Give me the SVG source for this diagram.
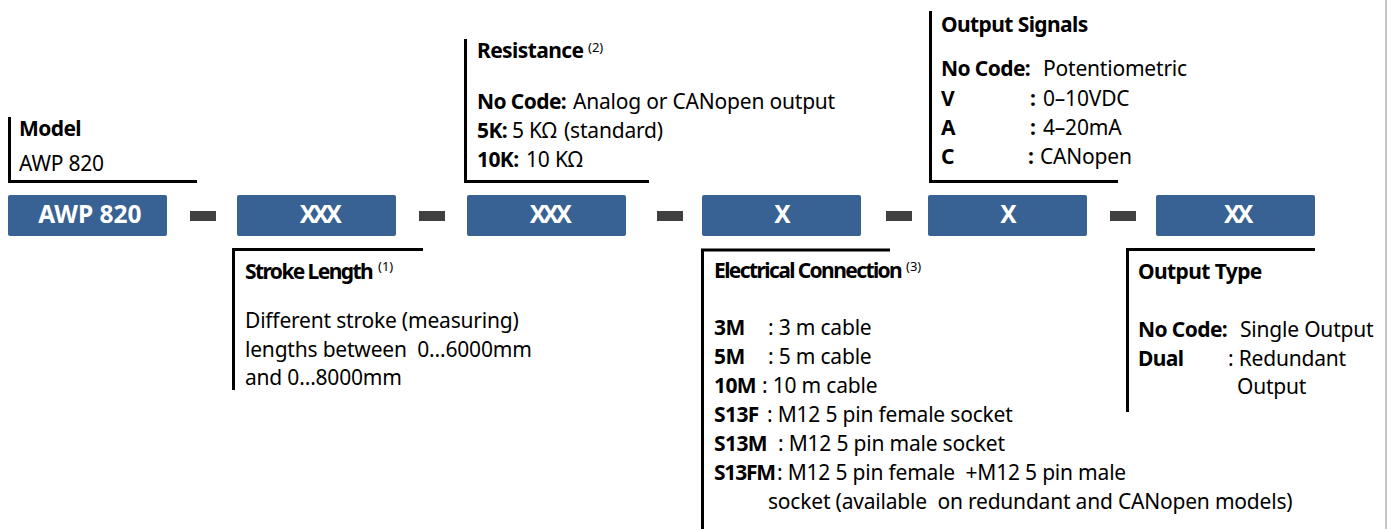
<svg xmlns="http://www.w3.org/2000/svg" width="1391" height="529" viewBox="0 0 1391 529">
<style>
text{font-family:"Noto Sans","Open Sans","DejaVu Sans",sans-serif;font-size:21px;fill:#000;letter-spacing:-0.2px}
.b{font-weight:bold;letter-spacing:-0.6px}
.tight{font-weight:bold;letter-spacing:-1.6px}
.sup{font-size:13px;letter-spacing:0}
.box{fill:#386194}
.bt{fill:#fff;font-weight:bold;font-size:24.5px;text-anchor:middle;letter-spacing:0}
.bx{letter-spacing:-3.5px}
.dash{fill:#404040}
.br{fill:none;stroke:#000;stroke-width:3}
</style>
<rect width="1391" height="529" fill="#fff"/>
<line x1="1386" y1="0" x2="1386" y2="529" stroke="#c4c4c4" stroke-width="2"/>

<g id="code-boxes">
<g id="box-model"><rect class="box" x="8" y="195" width="159" height="41" rx="2"/><text class="bt" x="90" y="223">AWP 820</text></g>
<g id="box-stroke"><rect class="box" x="237" y="195" width="159" height="41" rx="2"/><text class="bt bx" x="319" y="223">XXX</text></g>
<g id="box-resistance"><rect class="box" x="467" y="195" width="159" height="41" rx="2"/><text class="bt bx" x="549" y="223">XXX</text></g>
<g id="box-electrical"><rect class="box" x="702" y="195" width="159" height="41" rx="2"/><text class="bt" x="782.5" y="223">X</text></g>
<g id="box-output-signals"><rect class="box" x="928" y="195" width="159" height="41" rx="2"/><text class="bt" x="1008.5" y="223">X</text></g>
<g id="box-output-type"><rect class="box" x="1156" y="195" width="159" height="41" rx="2"/><text class="bt bx" x="1237" y="223">XX</text></g>
</g>

<g id="connectors">
<rect class="dash" x="190" y="211" width="26" height="10"/>
<rect class="dash" x="419" y="211" width="26" height="10"/>
<rect class="dash" x="657" y="211" width="26" height="10"/>
<rect class="dash" x="886" y="211" width="26" height="10"/>
<rect class="dash" x="1110" y="211" width="26" height="10"/>
<path class="br" d="M9.5 117 V181.5 H197"/>
<path class="br" d="M465.5 39 V181.5 H649"/>
<path class="br" d="M930.5 11 V181.5 H1118"/>
<path class="br" d="M233.5 390 V249.5 H423"/>
<path class="br" d="M702.5 529 V250 H890"/>
<path class="br" d="M1127.5 412 V249.5 H1315"/>
</g>

<g id="model">
<text class="b" x="19" y="136">Model</text>
<text x="19" y="171">AWP 820</text>
</g>

<g id="resistance">
<text class="b" x="477" y="58">Resistance</text>
<text class="sup" x="588" y="52">(2)</text>
<text x="477" y="109"><tspan class="b">No Code:</tspan><tspan x="573">Analog or CANopen output</tspan></text>
<text x="477" y="138"><tspan class="b">5K:</tspan><tspan x="512">5 KΩ</tspan><tspan x="564">(standard)</tspan></text>
<text x="477" y="167"><tspan class="b">10K:</tspan><tspan x="526">10 KΩ</tspan></text>
</g>

<g id="output-signals">
<text class="b" x="941" y="32">Output Signals</text>
<text x="941" y="76"><tspan class="b">No Code:</tspan><tspan x="1043">Potentiometric</tspan></text>
<text x="941" y="106"><tspan class="b">V</tspan><tspan class="b" x="1030">:</tspan><tspan x="1043">0–10VDC</tspan></text>
<text x="941" y="135"><tspan class="b">A</tspan><tspan class="b" x="1030">:</tspan><tspan x="1043">4–20mA</tspan></text>
<text x="941" y="164"><tspan class="b">C</tspan><tspan class="b" x="1028">:</tspan><tspan x="1040">CANopen</tspan></text>
</g>

<g id="stroke-length">
<text class="tight" x="245" y="279">Stroke Length</text>
<text class="sup" x="378" y="271">(1)</text>
<text x="245" y="328">Different stroke (measuring)</text>
<text x="245" y="357" xml:space="preserve">lengths between  0…6000mm</text>
<text x="245" y="385">and 0…8000mm</text>
</g>

<g id="electrical-connection">
<text class="tight" x="714" y="278">Electrical Connection</text>
<text class="sup" x="906" y="271">(3)</text>
<text x="714" y="335"><tspan class="b">3M</tspan><tspan x="768">: 3 m cable</tspan></text>
<text x="714" y="364"><tspan class="b">5M</tspan><tspan x="768">: 5 m cable</tspan></text>
<text x="714" y="393"><tspan class="b">10M</tspan><tspan x="762">: 10 m cable</tspan></text>
<text x="714" y="422"><tspan class="b">S13F</tspan><tspan x="767">: M12 5 pin female socket</tspan></text>
<text x="714" y="451"><tspan class="b">S13M</tspan><tspan x="778">: M12 5 pin male socket</tspan></text>
<text x="714" y="480" xml:space="preserve"><tspan class="b" style="letter-spacing:-1.2px">S13FM</tspan><tspan x="777">: M12 5 pin female  +M12 5 pin male</tspan></text>
<text x="768" y="509" xml:space="preserve">socket (available  on redundant and CANopen models)</text>
</g>

<g id="output-type">
<text class="b" x="1138" y="279">Output Type</text>
<text x="1138" y="337"><tspan class="b">No Code:</tspan><tspan x="1240">Single Output</tspan></text>
<text x="1138" y="366"><tspan class="b">Dual</tspan><tspan x="1228">: Redundant</tspan></text>
<text x="1237" y="394">Output</text>
</g>
</svg>
